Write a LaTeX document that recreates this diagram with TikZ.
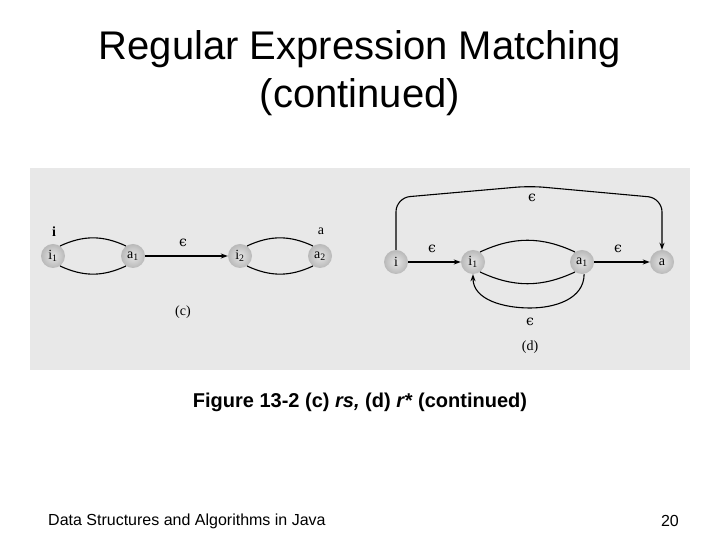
\documentclass[tikz,border=0pt]{standalone}
\usepackage{fontspec}
\setmainfont{Liberation Sans}
\newfontfamily\figfont{Liberation Serif}
\newfontfamily\epsfont{DejaVu Serif}
\newcommand{\eps}{{\epsfont ϵ}}
\usepackage{tikz}
\usetikzlibrary{arrows.meta,shadings}

\begin{document}
\begin{tikzpicture}[
  x=1pt, y=1pt,
  state/.style={circle, shading=radial, inner color=gray!20, outer color=gray!55, minimum size=24pt, inner sep=0pt, font=\figfont\fontsize{14}{15}\selectfont},
  lbl/.style={font=\figfont\fontsize{14}{15}\selectfont},
  arrow/.style={-{Stealth[length=7pt,width=5pt]}, line width=1.1pt},
  arc/.style={line width=1.1pt},
  every node/.style={inner sep=1pt}
]
\useasboundingbox (0,0) rectangle (720,540);

% title, caption, footer
\node[align=center, font=\fontsize{40}{48}\selectfont] (title) at (360,467) {Regular Expression Matching\\(continued)};
\fill[gray!18] (30,170) rectangle (690,372);
\node[font=\bfseries\fontsize{20}{24}\selectfont] (caption) at (360,138) {Figure 13-2 (c) \textit{rs,} (d) \textit{r*} (continued)};
\node[anchor=west, font=\fontsize{16}{19}\selectfont] (footer) at (47,19) {Data Structures and Algorithms in Java};
\node[anchor=east, font=\fontsize{16}{19}\selectfont] (page) at (680,19) {20};

% (c) rs
\node[state] (ci1) at (53,284) {i\textsubscript{1}};
\node[state] (ca1) at (133,284) {a\textsubscript{1}};
\node[state] (ci2) at (240,284) {i\textsubscript{2}};
\node[state] (ca2) at (320,284) {a\textsubscript{2}};

\draw[arc] (ci1.55) to[out=25, in=155] (ca1.125);
\draw[arc] (ci1.-55) to[out=-25, in=-155] (ca1.-125);
\draw[arc] (ci2.55) to[out=25, in=155] (ca2.125);
\draw[arc] (ci2.-55) to[out=-25, in=-155] (ca2.-125);
\draw[arrow] (ca1) -- (ci2);

\node[lbl, font=\figfont\bfseries\fontsize{14}{15}\selectfont] (ci) at (54,308) {i};
\node[lbl] (ca) at (321,309) {a};
\node[lbl] (ceps) at (183,297) {\eps};
\node[lbl] (ctag) at (183,228) {(c)};

% (d) r*
\node[state] (di) at (396,278) {i};
\node[state] (di1) at (473,278) {i\textsubscript{1}};
\node[state] (da1) at (582,278) {a\textsubscript{1}};
\node[state] (da) at (662,278) {a};

\draw[arc] (di1.55) to[out=25, in=155] (da1.125);
\draw[arc] (di1.-55) to[out=-25, in=-155] (da1.-125);
\draw[arrow] (di) -- (di1);
\draw[arrow] (da1) -- (da);
\coordinate (dtop) at (530,354);
\draw[arrow, rounded corners=14pt] (di.north) -- ++(0,52) -- (dtop) -- (da.north |- 0,342) -- (da.north);
\coordinate (dbot) at (530,232);
\draw[arrow] (da1.-80) to[out=-90, in=0] (dbot) to[out=180, in=-90] (di1.south);

\node[lbl] (deps1) at (432,291) {\eps};
\node[lbl] (deps2) at (618,291) {\eps};
\node[lbl] (deps3) at (532,342) {\eps};
\node[lbl] (deps4) at (530,218) {\eps};
\node[lbl] (dtag) at (530,193) {(d)};
\end{tikzpicture}
\end{document}
